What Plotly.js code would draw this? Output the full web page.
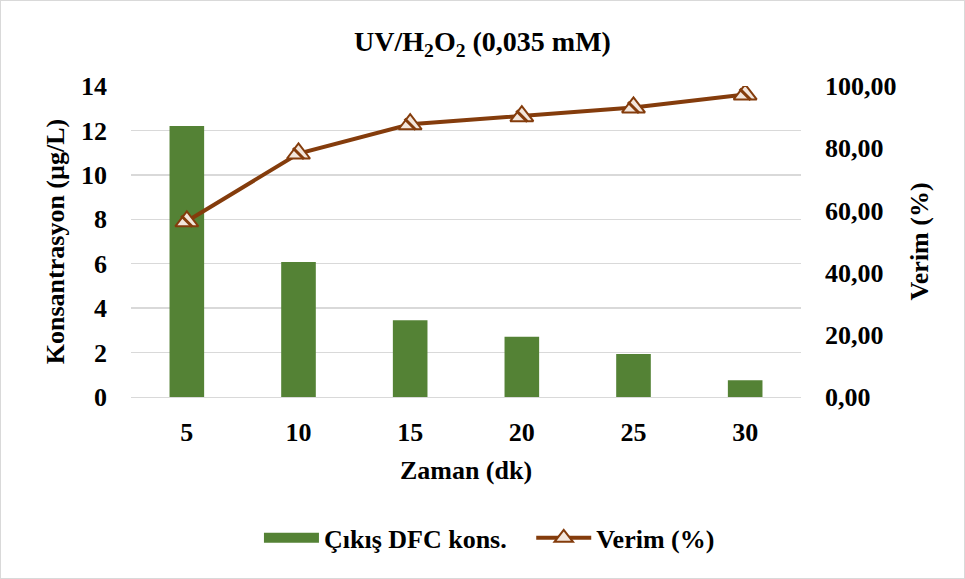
<!DOCTYPE html>
<html><head><meta charset="utf-8">
<script src="https://cdn.plot.ly/plotly-3.0.1.min.js"></script>
<style>html,body{margin:0;padding:0;background:#fff}#wrap{width:963px;height:577px;border:1px solid #d9d9d9}#chart{width:963px;height:577px}</style>
</head><body><div id="wrap"><div id="chart"></div></div>
<script>
const categories = ['5','10','15','20','25','30'];
const konsantrasyon = [12.2, 6.08, 3.45, 2.71, 1.94, 0.75];
const verim = [56.5, 78.3, 87.7, 90.3, 93.1, 97.3];
const leftTicks = [0,2,4,6,8,10,12,14];
const rightTicks = [0,20,40,60,80,100];

const fam = 'Liberation Serif, Times New Roman, serif';
const FS = 26;
const brown = '#843c0c';
const green = '#548235';
const data = [
  {type:'bar', x:categories, y:konsantrasyon, name:'Çıkış DFC kons.', marker:{color:green}, yaxis:'y', showlegend:false},
  {type:'scatter', mode:'lines', x:[null], y:[null], name:'<b>Çıkış DFC kons.</b>&nbsp;&nbsp;&nbsp;', line:{color:green, width:16}, yaxis:'y', hoverinfo:'skip'},
  {type:'scatter', mode:'lines+markers', x:categories, y:verim, name:'<b>Verim (%)</b>', yaxis:'y2',
   line:{color:brown, width:4}, marker:{symbol:'triangle-up', size:20, color:'#f3e6dc', line:{color:brown, width:2}}},
  {type:'scatter', mode:'markers', x:categories, y:verim, yaxis:'y2', showlegend:false, hoverinfo:'skip',
   marker:{symbol:'line-nw', size:11, color:brown, line:{color:brown, width:3}}}
];
const layout = {
  width:963, height:577, separators:',.',
  paper_bgcolor:'#fff', plot_bgcolor:'#fff', font:{family:fam, size:FS, color:'#000'},
  margin:{l:130, r:163, t:85, b:181},
  title:{text:'<b>UV/H<sub>2</sub>O<sub>2</sub> (0,035 mM)</b>', x:0.5, xanchor:'center', y:0.93, yanchor:'middle', font:{family:fam, size:28, color:'#000'}},
  bargap:0.69,
  xaxis:{type:'category', categoryorder:'array', categoryarray:categories, showgrid:false, showline:true, linecolor:'#d9d9d9', linewidth:1, ticks:'', ticklabelstandoff:12,
    tickfont:{family:fam, size:FS, color:'#000', weight:'bold'},
    title:{text:'<b>Zaman (dk)</b>', standoff:14, font:{family:fam, size:FS, color:'#000'}}},
  yaxis:{range:[0,14], tickvals:leftTicks, showgrid:true, gridcolor:'#d9d9d9', gridwidth:1.5, zeroline:false, showline:false, ticks:'',
    ticklabelstandoff:23, tickfont:{family:fam, size:FS, color:'#000', weight:'bold'},
    title:{text:'<b>Konsantrasyon (µg/L)</b>', standoff:8, font:{family:fam, size:FS, color:'#000'}}},
  yaxis2:{overlaying:'y', side:'right', range:[0,100], tickvals:rightTicks, tickformat:'.2f', showgrid:false, zeroline:false, ticks:'',
    ticklabelstandoff:23, tickfont:{family:fam, size:FS, color:'#000', weight:'bold'},
    title:{text:'<b>Verim (%)</b>', standoff:14, font:{family:fam, size:FS, color:'#000'}}},
  legend:{orientation:'h', x:0.535, xanchor:'center', y:-0.453, yanchor:'middle', font:{family:fam, size:FS, color:'#000'}, itemwidth:55, traceorder:'normal'},
  showlegend:true
};
Plotly.newPlot('chart', data, layout, {displayModeBar:false, staticPlot:true});
</script></body></html>
